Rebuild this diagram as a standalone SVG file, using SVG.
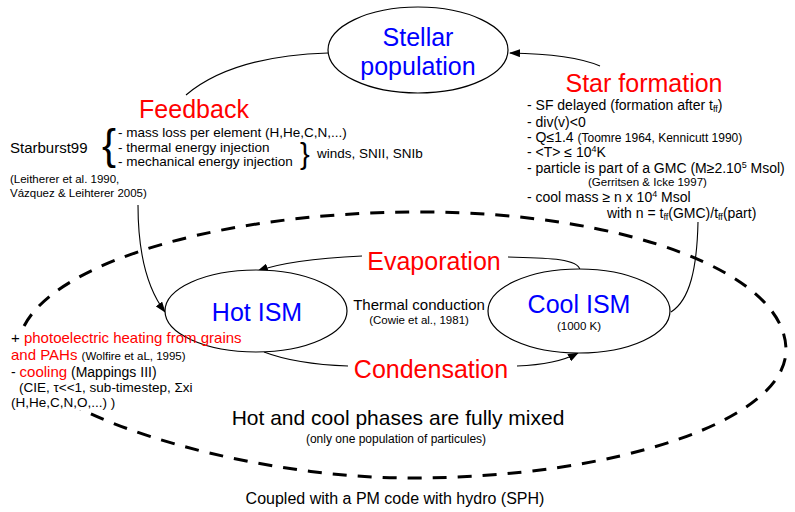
<svg xmlns="http://www.w3.org/2000/svg" width="795" height="512" viewBox="0 0 795 512">
<defs>
<style>
text{font-family:"Liberation Sans",Arial,sans-serif;fill:#000}
.red{fill:#ff0000}
.blue{fill:#0000ff}
.node{fill:#fff;stroke:#000;stroke-width:1.2}
.con{fill:none;stroke:#000;stroke-width:1.1}
.big{font-size:25px}
.t13{font-size:13.5px}
.t14{font-size:14px}
.t11{font-size:11.5px}
.sub{font-size:9px}
</style>
<marker id="arr" markerWidth="11" markerHeight="8" refX="10" refY="4" orient="auto" markerUnits="userSpaceOnUse">
<path d="M0,0 L11,4 L0,8 z" fill="#000"/>
</marker>
</defs>
<rect width="795" height="512" fill="#fff"/>

<g id="mixed-region">
<path d="M 18 350 C 18 274 199 212 420 212 C 623 212 786 272 786 350 C 786 420 617 478 410 478 C 234 478 18 408 18 350 Z" fill="none" stroke="#000" stroke-width="3" stroke-dasharray="14 11"/>
<text x="398" y="425" font-size="21" text-anchor="middle">Hot and cool phases are fully mixed</text>
<text x="396" y="443" font-size="12" text-anchor="middle">(only one population of particules)</text>
</g>

<g id="connectors">
<path class="con" d="M 186 95 Q 232 56 328 53"/>
<path class="con" d="M 600 66 Q 572 54 510 53" marker-end="url(#arr)"/>
<path class="con" d="M 138 205 C 138 252 146 287 165 312" marker-end="url(#arr)"/>
<path class="con" d="M 671 312 C 690 300 697 268 698 222"/>
<path class="con" d="M 580 270 C 578 258 545 258 508 257"/>
<path class="con" d="M 362 256 C 320 258 282 262 258 271" marker-end="url(#arr)"/>
<path class="con" d="M 264 352 C 290 362 320 365 348 366"/>
<path class="con" d="M 517 366 C 545 365 565 360 578 353" marker-end="url(#arr)"/>
</g>

<g id="stellar-population">
<ellipse class="node" cx="418" cy="50" rx="90" ry="43"/>
<text class="big blue" x="418" y="46" text-anchor="middle">Stellar</text>
<text class="big blue" x="418" y="75" text-anchor="middle">population</text>
</g>

<g id="hot-ism">
<ellipse class="node" cx="256" cy="311" rx="91" ry="41"/>
<text class="big blue" x="257" y="321" text-anchor="middle">Hot ISM</text>
</g>

<g id="cool-ism">
<ellipse class="node" cx="579" cy="311" rx="91" ry="42"/>
<text class="big blue" x="579" y="313" text-anchor="middle">Cool ISM</text>
<text class="t11" x="579" y="330" text-anchor="middle">(1000 K)</text>
</g>

<g id="thermal-conduction">
<text x="419" y="310" font-size="15" text-anchor="middle">Thermal conduction</text>
<text class="t11" x="419" y="324" text-anchor="middle">(Cowie et al., 1981)</text>
</g>

<g id="evaporation">
<text class="big red" x="434" y="270" text-anchor="middle">Evaporation</text>
</g>

<g id="condensation">
<text class="big red" x="431" y="378" text-anchor="middle">Condensation</text>
</g>

<g id="feedback">
<text class="big red" x="194" y="118" text-anchor="middle">Feedback</text>
<text x="10" y="153" font-size="15">Starburst99</text>
<text x="102" y="159" font-size="42">{</text>
<text class="t13" x="118" y="137">- mass loss per element (H,He,C,N,...)</text>
<text class="t13" x="118" y="152">- thermal energy injection</text>
<text class="t13" x="118" y="166">- mechanical energy injection</text>
<text x="300" y="164" font-size="29">}</text>
<text class="t13" x="317" y="158">winds, SNII, SNIb</text>
<text class="t11" x="10" y="183">(Leitherer et al. 1990,</text>
<text class="t11" x="10" y="197">Vázquez &amp; Leihterer 2005)</text>
</g>

<g id="star-formation">
<text class="big red" x="644" y="92" text-anchor="middle">Star formation</text>
<text class="t14" x="527" y="110">- SF delayed (formation after t<tspan class="sub" dy="2">ff</tspan><tspan dy="-2">)</tspan></text>
<text class="t14" x="527" y="127">- div(v)&lt;0</text>
<text class="t14" x="527" y="142">- Q≤1.4 <tspan font-size="12">(Toomre 1964, Kennicutt 1990)</tspan></text>
<text class="t14" x="527" y="157">- &lt;T&gt; ≤ 10<tspan class="sub" dy="-5">4</tspan><tspan dy="5">K</tspan></text>
<text class="t14" x="527" y="173">- particle is part of a GMC (M≥2.10<tspan class="sub" dy="-5">5</tspan><tspan dy="5"> Msol)</tspan></text>
<text x="588" y="186" font-size="11.5">(Gerritsen &amp; Icke 1997)</text>
<text class="t14" x="527" y="202">- cool mass ≥  n x 10<tspan class="sub" dy="-5">4</tspan><tspan dy="5"> Msol</tspan></text>
<text class="t14" x="607" y="218">with n = t<tspan class="sub" dy="2">ff</tspan><tspan dy="-2">(GMC)/t</tspan><tspan class="sub" dy="2">ff</tspan><tspan dy="-2">(part)</tspan></text>
</g>

<g id="heating-cooling">
<rect x="6" y="330" width="150" height="80" fill="#fff"/>
<text x="11" y="343" font-size="15">+ <tspan class="red">photoelectric heating from grains</tspan></text>
<text x="11" y="360" font-size="15"><tspan class="red">and PAHs</tspan> <tspan font-size="11.5">(Wolfire et aL, 1995)</tspan></text>
<text x="11" y="377" font-size="14">- <tspan class="red" font-size="15">cooling</tspan> (Mappings III)</text>
<text x="19" y="392" font-size="13.5">(CIE, τ&lt;&lt;1, sub-timestep, Σxi</text>
<text x="11" y="407" font-size="13.5">(H,He,C,N,O,...) )</text>
</g>

<g id="coupled">
<text x="395" y="504" font-size="16" text-anchor="middle">Coupled with a PM code with hydro (SPH)</text>
</g>
</svg>
